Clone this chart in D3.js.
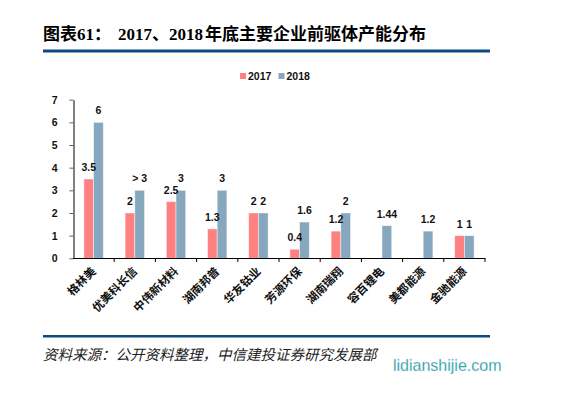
<!DOCTYPE html>
<html><head><meta charset="utf-8">
<script src="https://cdn.jsdelivr.net/npm/d3@7"></script>
<style>
body{margin:0;background:#fff;}
svg{display:block;}
</style></head>
<body>
<svg id="c" width="565" height="398"></svg>
<script>
const categories = ["格林美","优美科长信","中伟新材料","湖南邦普","华友钴业","芳源环保","湖南瑞翔","容百锂电","美都能源","金驰能源"];
const series2017 = [3.5, 2, 2.5, 1.3, 2, 0.4, 1.2, null, null, 1];
const series2018 = [6, 3, 3, 3, 2, 1.6, 2, 1.44, 1.2, 1];
const labels2017 = ["3.5","2","2.5","1.3","2","0.4","1.2",null,null,"1"];
const labels2018 = ["6","> 3","3","3","2","1.6","2","1.44","1.2","1"];
const seriesNames = ["2017","2018"];
const yTicks = [0,1,2,3,4,5,6,7];

const svg = d3.select("#c");
const colors = ["#FF8080","#87A7BF"];
const navy = "#0E4A80";

// Title
const title = svg.append("text").attr("y", 40).attr("font-weight","bold").attr("font-size",17).attr("fill","#000");
title.append("tspan").attr("x",43).attr("font-family","'Noto Sans CJK SC'").text("图表");
title.append("tspan").attr("font-family","'Liberation Serif'").text("61");
title.append("tspan").attr("font-family","'Noto Sans CJK SC'").text("：");
title.append("tspan").attr("x",118).attr("font-family","'Liberation Serif'").text("2017");
title.append("tspan").attr("font-family","'Noto Sans CJK SC'").text("、");
title.append("tspan").attr("font-family","'Liberation Serif'").text("2018");
title.append("tspan").attr("x",205).attr("font-family","'Noto Sans CJK SC'").text("年底主要企业前驱体产能分布");

svg.append("rect").attr("x",43).attr("y",49.5).attr("width",447).attr("height",3).attr("fill",navy);
svg.append("rect").attr("x",43).attr("y",335).attr("width",447).attr("height",2.5).attr("fill",navy);

// scales
const x = d3.scaleBand().domain(categories).range([73,485]).paddingInner(0).paddingOuter(0);
const y = d3.scaleLinear().domain([0,7]).range([258.3,99.7]);
const barW = 9.7;

// y axis
const ya = svg.append("g").attr("transform","translate(73.5,0)")
  .call(d3.axisLeft(y).tickValues(yTicks).tickFormat(d3.format("d")).tickSize(4).tickPadding(12).tickSizeOuter(0));
ya.select(".domain").attr("stroke","#808080").attr("stroke-width",2);
ya.selectAll(".tick line").attr("stroke","#606060").attr("stroke-width",1);
ya.selectAll(".tick text").attr("font-family","'Liberation Sans',Arial").attr("font-weight","bold").attr("font-size",10.5).attr("fill","#111");

// bars
const g = svg.append("g");
const gl = svg.append("g");
const data = categories.map((c,i)=>({c,i,v:[series2017[i],series2018[i]],l:[labels2017[i],labels2018[i]]}));
data.forEach(d=>{
  const cx = x(d.c)+x.bandwidth()/2;
  [0,1].forEach(s=>{
    const v = d.v[s];
    if(v==null) return;
    const bx = s===0 ? cx-barW : cx;
    g.append("rect").attr("x",bx).attr("y",y(v)).attr("width",barW).attr("height",y(0)-y(v))
      .attr("fill",colors[s]).attr("stroke","rgba(255,255,255,0.55)").attr("stroke-width",0.8);
    gl.append("text").attr("x",bx+barW/2).attr("y",y(v)-8).attr("text-anchor","middle")
      .attr("font-family","'Liberation Sans',Arial").attr("font-weight","bold").attr("font-size",10.5).attr("fill","#111")
      .text(d.l[s]);
  });
});

// x axis
const xa = svg.append("g").attr("transform","translate(0,258.5)");
xa.append("line").attr("x1",73).attr("x2",485.5).attr("stroke","#000").attr("stroke-width",1.2);
const bounds = categories.map(c=>x(c)).concat([x.range()[1]]);
xa.selectAll(".tk").data(bounds.slice(1)).enter().append("line")
  .attr("x1",d=>d).attr("x2",d=>d).attr("y1",0).attr("y2",3.5).attr("stroke","#000").attr("stroke-width",1);
svg.append("g").selectAll("text").data(categories).enter().append("text")
  .attr("transform",d=>`translate(${x(d)+x.bandwidth()/2+3},${272}) rotate(-45)`)
  .attr("text-anchor","end").attr("font-family","'Noto Sans CJK SC'").attr("font-weight","bold")
  .attr("font-size",11.5).attr("fill","#111").text(d=>d);

// legend
const lg = svg.append("g");
const lx = [240,278.5];
seriesNames.forEach((n,i)=>{
  lg.append("rect").attr("x",lx[i]).attr("y",73).attr("width",6).attr("height",6).attr("fill",colors[i]);
  lg.append("text").attr("x",lx[i]+8).attr("y",80).attr("font-family","'Liberation Sans',Arial").attr("font-weight","bold")
    .attr("font-size",10.5).attr("fill","#111").text(n);
});

// source
svg.append("text").attr("x",43).attr("y",360).attr("font-family","'Noto Sans CJK SC'").attr("font-style","italic")
  .attr("font-size",14.5).attr("fill","#222").text("资料来源：公开资料整理，中信建投证券研究发展部");
svg.append("text").attr("x",393).attr("y",371).attr("font-family","'Liberation Sans',Arial")
  .attr("font-size",16).attr("fill","#1E95A2").attr("stroke","#cfe9ec").attr("stroke-width",0.3).text("lidianshijie.com");
</script>
</body></html>
